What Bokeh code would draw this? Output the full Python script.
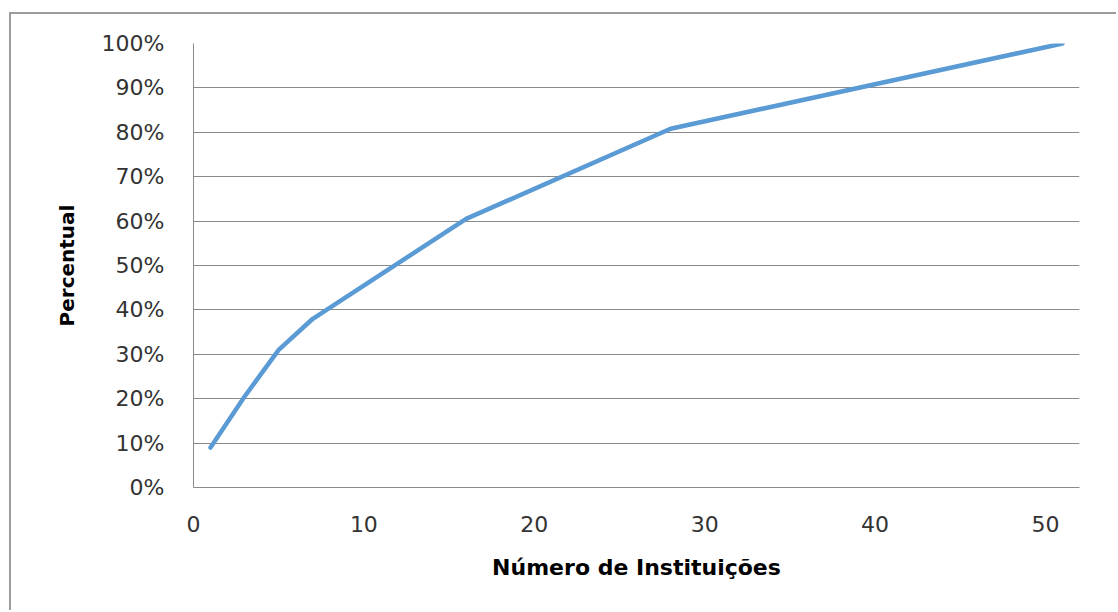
from bokeh.plotting import figure
from bokeh.models import PrintfTickFormatter, FixedTicker, Range1d
from bokeh.embed import file_html
from bokeh.resources import INLINE

# Cumulative share (%) against number of institutions
instituicoes = [1, 3, 5, 7, 16, 28, 51]
percentual = [9, 20.5, 31, 38, 60.5, 80.8, 100]

x_ticks = [0, 10, 20, 30, 40, 50]
y_ticks = [0, 10, 20, 30, 40, 50, 60, 70, 80, 90, 100]

GRID = "#8a8a8a"
TICK_TEXT = "#333333"

# chart area sits inside a thin outer frame (top and left edges visible)
OFF_L, OFF_T, BW = 9, 12, 2

p = figure(
    width=1118 - OFF_L - BW, height=612 - OFF_T - BW,
    output_backend="svg", toolbar_location=None,
    x_range=Range1d(0, 52), y_range=Range1d(0, 100),
    min_border_left=193 - OFF_L - BW, min_border_right=39,
    min_border_top=43 - OFF_T - BW, min_border_bottom=125,
    background_fill_color="white", border_fill_color="white",
)
p.margin = (OFF_T, 0, 0, OFF_L)
p.styles = {
    "border-left": f"{BW}px solid #9c9c9c",
    "border-top": f"{BW}px solid #9c9c9c",
}
p.outline_line_color = None

p.line(instituicoes, percentual, line_color="#5B9BD5", line_width=4.5,
       line_join="round", line_cap="round")

# Axes
p.xaxis.ticker = FixedTicker(ticks=x_ticks)
p.yaxis.ticker = FixedTicker(ticks=y_ticks)
p.yaxis.formatter = PrintfTickFormatter(format="%d%%")

for ax in (p.xaxis[0], p.yaxis[0]):
    ax.axis_line_color = GRID
    ax.axis_line_width = 1
    ax.major_tick_in = 0
    ax.major_tick_out = 0
    ax.minor_tick_in = 0
    ax.minor_tick_out = 0
    ax.major_label_text_font = "DejaVu Sans"
    ax.major_label_text_font_size = "22px"
    ax.major_label_text_color = TICK_TEXT
    ax.axis_label_text_font = "DejaVu Sans"
    ax.axis_label_text_font_style = "bold"
    ax.axis_label_text_color = "black"

p.xaxis.axis_label = "Número de Instituições"
p.xaxis.axis_label_text_font_size = "22px"
p.xaxis.major_label_standoff = 28
p.xaxis.axis_label_standoff = 20

p.yaxis.axis_label = "Percentual"
p.yaxis.axis_label_text_font_size = "20px"
p.yaxis.major_label_standoff = 29
p.yaxis.axis_label_standoff = 20

p.xgrid.grid_line_color = None
p.ygrid.grid_line_color = GRID
p.ygrid.grid_line_width = 1

open("out.html", "w").write(file_html(p, INLINE))
